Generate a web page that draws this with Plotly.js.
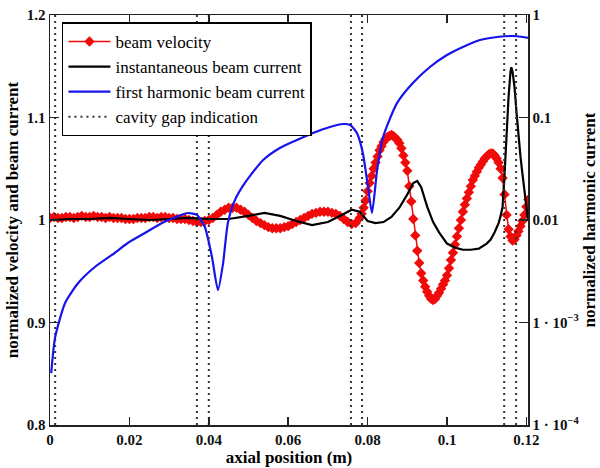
<!DOCTYPE html>
<html>
<head>
<meta charset="utf-8">
<script src="https://cdn.plot.ly/plotly-3.0.1.min.js"></script>
<style>html,body{margin:0;padding:0;background:#fff;}#chart{width:600px;height:468px;}</style>
</head>
<body>
<div id="chart"></div>
<script>
// ---- beam velocity (left axis) ----
const velX = [0.000,0.001,0.002,0.003,0.004,0.005,0.006,0.007,0.008,0.009,0.010,0.011,0.012,0.013,0.014,0.015,0.016,0.017,0.018,0.019,
  0.020,0.021,0.022,0.023,0.024,0.025,0.026,0.027,0.028,0.029,0.030,0.031,0.032,0.033,0.034,0.035,0.036,0.037,0.038,0.039,
  0.040,0.041,0.042,0.043,0.044,0.045,0.046,0.047,0.048,0.049,0.050,0.051,0.052,0.053,0.054,0.055,0.056,0.057,0.058,0.059,
  0.060,0.061,0.062,0.063,0.064,0.065,0.066,0.067,0.068,0.069,0.070,0.071,0.072,0.073,0.074,0.075,0.076,0.077,
  0.0780,0.0785,0.0790,0.0795,0.0800,0.0805,0.0810,0.0815,0.0820,0.0825,0.0830,0.0835,0.0840,0.0845,0.0850,0.0855,0.0860,0.0865,0.0870,0.0875,
  0.0880,0.0885,0.0890,0.0895,0.0900,0.0905,0.0910,0.0915,0.0920,0.0925,0.0930,0.0935,0.0940,0.0945,0.0950,0.0955,0.0960,0.0965,0.0970,0.0975,
  0.0980,0.0985,0.0990,0.0995,0.1000,0.1005,0.1010,0.1015,0.1020,0.1025,0.1030,0.1035,0.1040,0.1045,0.1050,0.1055,0.1060,0.1065,0.1070,0.1075,
  0.1080,0.1085,0.1090,0.1095,0.1100,0.1105,0.1110,0.1115,0.1120,0.1125,0.1130,0.1135,0.1140,0.1145,0.1150,0.1155,0.1160,0.1165,0.1170,0.1175,
  0.1180,0.1185,0.1190,0.1195,0.1200,0.1205];
const velY = [1.002,1.003,1.002,1.002,1.003,1.003,1.002,1.003,1.004,1.003,1.003,1.004,1.003,1.003,1.002,1.003,1.002,1.002,1.002,1.001,
  1.001,1.001,1.002,1.002,1.002,1.003,1.003,1.002,1.003,1.003,1.002,1.002,1.001,1.001,1.001,1.000,0.999,0.998,0.998,0.999,
  1.000,1.002,1.005,1.008,1.010,1.012,1.012,1.012,1.010,1.008,1.005,1.002,0.999,0.997,0.995,0.993,0.992,0.992,0.992,0.993,
  0.994,0.996,0.998,1.000,1.002,1.004,1.006,1.007,1.008,1.008,1.008,1.007,1.006,1.004,1.001,0.998,0.996,0.997,
  1.002,1.006,1.012,1.019,1.028,1.036,1.043,1.050,1.056,1.062,1.068,1.072,1.076,1.079,1.081,1.082,1.083,1.082,1.080,1.078,
  1.075,1.070,1.063,1.056,1.048,1.033,1.018,1.001,0.985,0.970,0.958,0.948,0.941,0.935,0.930,0.926,0.923,0.922,0.923,0.926,
  0.929,0.933,0.937,0.941,0.946,0.953,0.961,0.968,0.976,0.984,0.992,1.000,1.008,1.015,1.021,1.027,1.033,1.039,1.043,1.047,
  1.051,1.054,1.057,1.060,1.062,1.064,1.065,1.065,1.063,1.060,1.056,1.050,1.041,1.025,1.005,0.991,0.984,0.980,0.981,0.985,
  0.989,0.994,0.999,1.005,1.013,1.020];

// ---- instantaneous beam current (left axis) ----
const curX = [0,0.005,0.010,0.015,0.020,0.025,0.030,0.035,0.040,0.045,0.050,0.054,0.058,0.062,0.066,0.070,0.073,0.076,0.078,0.080,
  0.082,0.084,0.086,0.088,0.090,0.0915,0.0925,0.0935,0.0950,0.0965,0.0980,0.1000,0.1020,0.1040,0.1060,0.1080,0.1100,0.1110,0.1120,0.1130,
  0.1135,0.1140,0.1145,0.1150,0.1155,0.1160,0.1162,0.1165,0.1170,0.1175,0.1180,0.1185,0.1190,0.1195,0.1200,0.1204];
const curY = [1.000,1.001,1.001,1.002,1.001,1.000,1.001,1.002,1.001,1.001,1.004,1.007,1.004,0.999,0.995,0.998,1.004,1.010,1.008,0.999,
  0.997,0.998,1.003,1.012,1.025,1.036,1.038,1.032,1.013,0.998,0.988,0.977,0.973,0.971,0.971,0.972,0.977,0.981,0.988,0.997,
  1.004,1.013,1.045,1.085,1.120,1.145,1.149,1.145,1.130,1.105,1.080,1.062,1.045,1.028,1.010,1.000];

// ---- first harmonic beam current (right log axis) ----
const harmX = [0.0003,0.0013,0.0038,0.0071,0.0113,0.0156,0.0196,0.0239,0.0282,0.0322,0.0348,0.0370,0.0390,0.0408,0.0423,0.0436,0.0448,0.0466,0.0491,
  0.0537,0.0579,0.0622,0.0662,0.0705,0.0738,0.0756,0.0773,0.0788,0.0801,0.0811,0.0824,0.0839,0.0874,0.0914,0.0957,0.1000,0.1040,0.1083,0.1126,
  0.1166,0.1191,0.1204];
const harmY = [3.2e-4,7.2e-4,1.55e-3,2.43e-3,3.48e-3,4.56e-3,5.97e-3,7.46e-3,9.35e-3,1.09e-2,1.17e-2,1.12e-2,8.55e-3,4.35e-3,2.07e-3,3.8e-3,9.35e-3,1.57e-2,2.3e-2,
  3.85e-2,5.04e-2,6.03e-2,7.06e-2,8.08e-2,8.64e-2,8.45e-2,7.06e-2,4.51e-2,2.1e-2,1.17e-2,3.08e-2,6.45e-2,0.138,0.217,0.311,0.407,0.488,0.570,0.610,
  0.624,0.610,0.597];

// ---- cavity gap positions ----
const gapX = [0.0013,0.0370,0.0400,0.0758,0.0786,0.1144,0.1174];
const yLimits = [0.8, 1.2];

// axis ticks
const xTicks = [0,0.02,0.04,0.06,0.08,0.1,0.12];
const xTickText = ['0','0.02','0.04','0.06','0.08','0.1','0.12'];
const yTicks = [0.8,0.9,1,1.1,1.2];
const yTickText = ['0.8','0.9','1','1.1','1.2'];
const y2Ticks = [1e-4,1e-3,1e-2,1e-1,1];
const y2TickText = ['1 · 10<sup>−4</sup>','1 · 10<sup>−3</sup>','0.01','0.1','1'];

// build gap trace (null separated segments)
const gx = [], gy = [];
gapX.forEach(v => { gx.push(v, v, null); gy.push(yLimits[0], yLimits[1], null); });

const serif = 'Liberation Serif, Times New Roman, serif';
const tickFont = {family: serif, size: 15, color: '#111', weight: 'bold'};
const titleFont = {family: serif, size: 17, color: '#000', weight: 'bold'};

const traces = [
  {x: velX, y: velY, name: 'beam velocity', type: 'scatter', mode: 'lines+markers',
   line: {color: 'rgb(240,10,10)', width: 1.5},
   marker: {symbol: 'diamond', size: 8, color: 'rgb(240,10,10)'}},
  {x: curX, y: curY, name: 'instantaneous beam current', type: 'scatter', mode: 'lines',
   line: {color: '#000', width: 2.2}},
  {x: harmX, y: harmY, name: 'first harmonic beam current', type: 'scatter', mode: 'lines', yaxis: 'y2',
   line: {color: 'rgb(20,20,235)', width: 2.2, shape: 'spline', smoothing: 0.6}},
  {x: gx, y: gy, name: 'cavity gap indication', type: 'scatter', mode: 'lines',
   line: {color: '#333', width: 2, dash: '2px,4px'}}
];

const layout = {
  width: 600, height: 468,
  margin: {l: 50, r: 72, t: 15, b: 43},
  paper_bgcolor: '#fff', plot_bgcolor: '#fff',
  showlegend: true,
  legend: {x: 0.025, y: 0.982, xanchor: 'left', yanchor: 'top',
    bgcolor: '#fff', bordercolor: '#000', borderwidth: 1.5, itemwidth: 42,
    font: {family: serif, size: 17, color: '#000'}, tracegroupgap: 0},
  xaxis: {range: [0, 0.1204], tickvals: xTicks, ticktext: xTickText,
    showgrid: false, zeroline: false, showline: true, linecolor: '#222', linewidth: 1.5,
    mirror: 'ticks', ticks: 'inside', ticklen: 8, tickwidth: 1.5, tickcolor: '#222',
    tickfont: tickFont,
    title: {text: 'axial position (m)', font: titleFont, standoff: 4}},
  yaxis: {range: [0.8, 1.2], tickvals: yTicks, ticktext: yTickText,
    showgrid: false, zeroline: false, showline: true, linecolor: '#222', linewidth: 1.5,
    mirror: true, ticks: 'inside', ticklen: 9, tickwidth: 1.5, tickcolor: '#222',
    tickfont: tickFont,
    title: {text: 'normalized velocity and beam current', font: titleFont, standoff: 4}},
  yaxis2: {type: 'log', range: [-4, 0], overlaying: 'y', side: 'right', tickvals: y2Ticks, ticktext: y2TickText,
    showgrid: false, zeroline: false, showline: true, linecolor: '#222', linewidth: 1.5,
    ticks: 'inside', ticklen: 9, tickwidth: 1.5, tickcolor: '#222',
    tickfont: tickFont,
    title: {text: 'normalized harmonic current', font: titleFont, standoff: 4}}
};

Plotly.newPlot('chart', traces, layout, {displayModeBar: false, staticPlot: true});
</script>
</body>
</html>
